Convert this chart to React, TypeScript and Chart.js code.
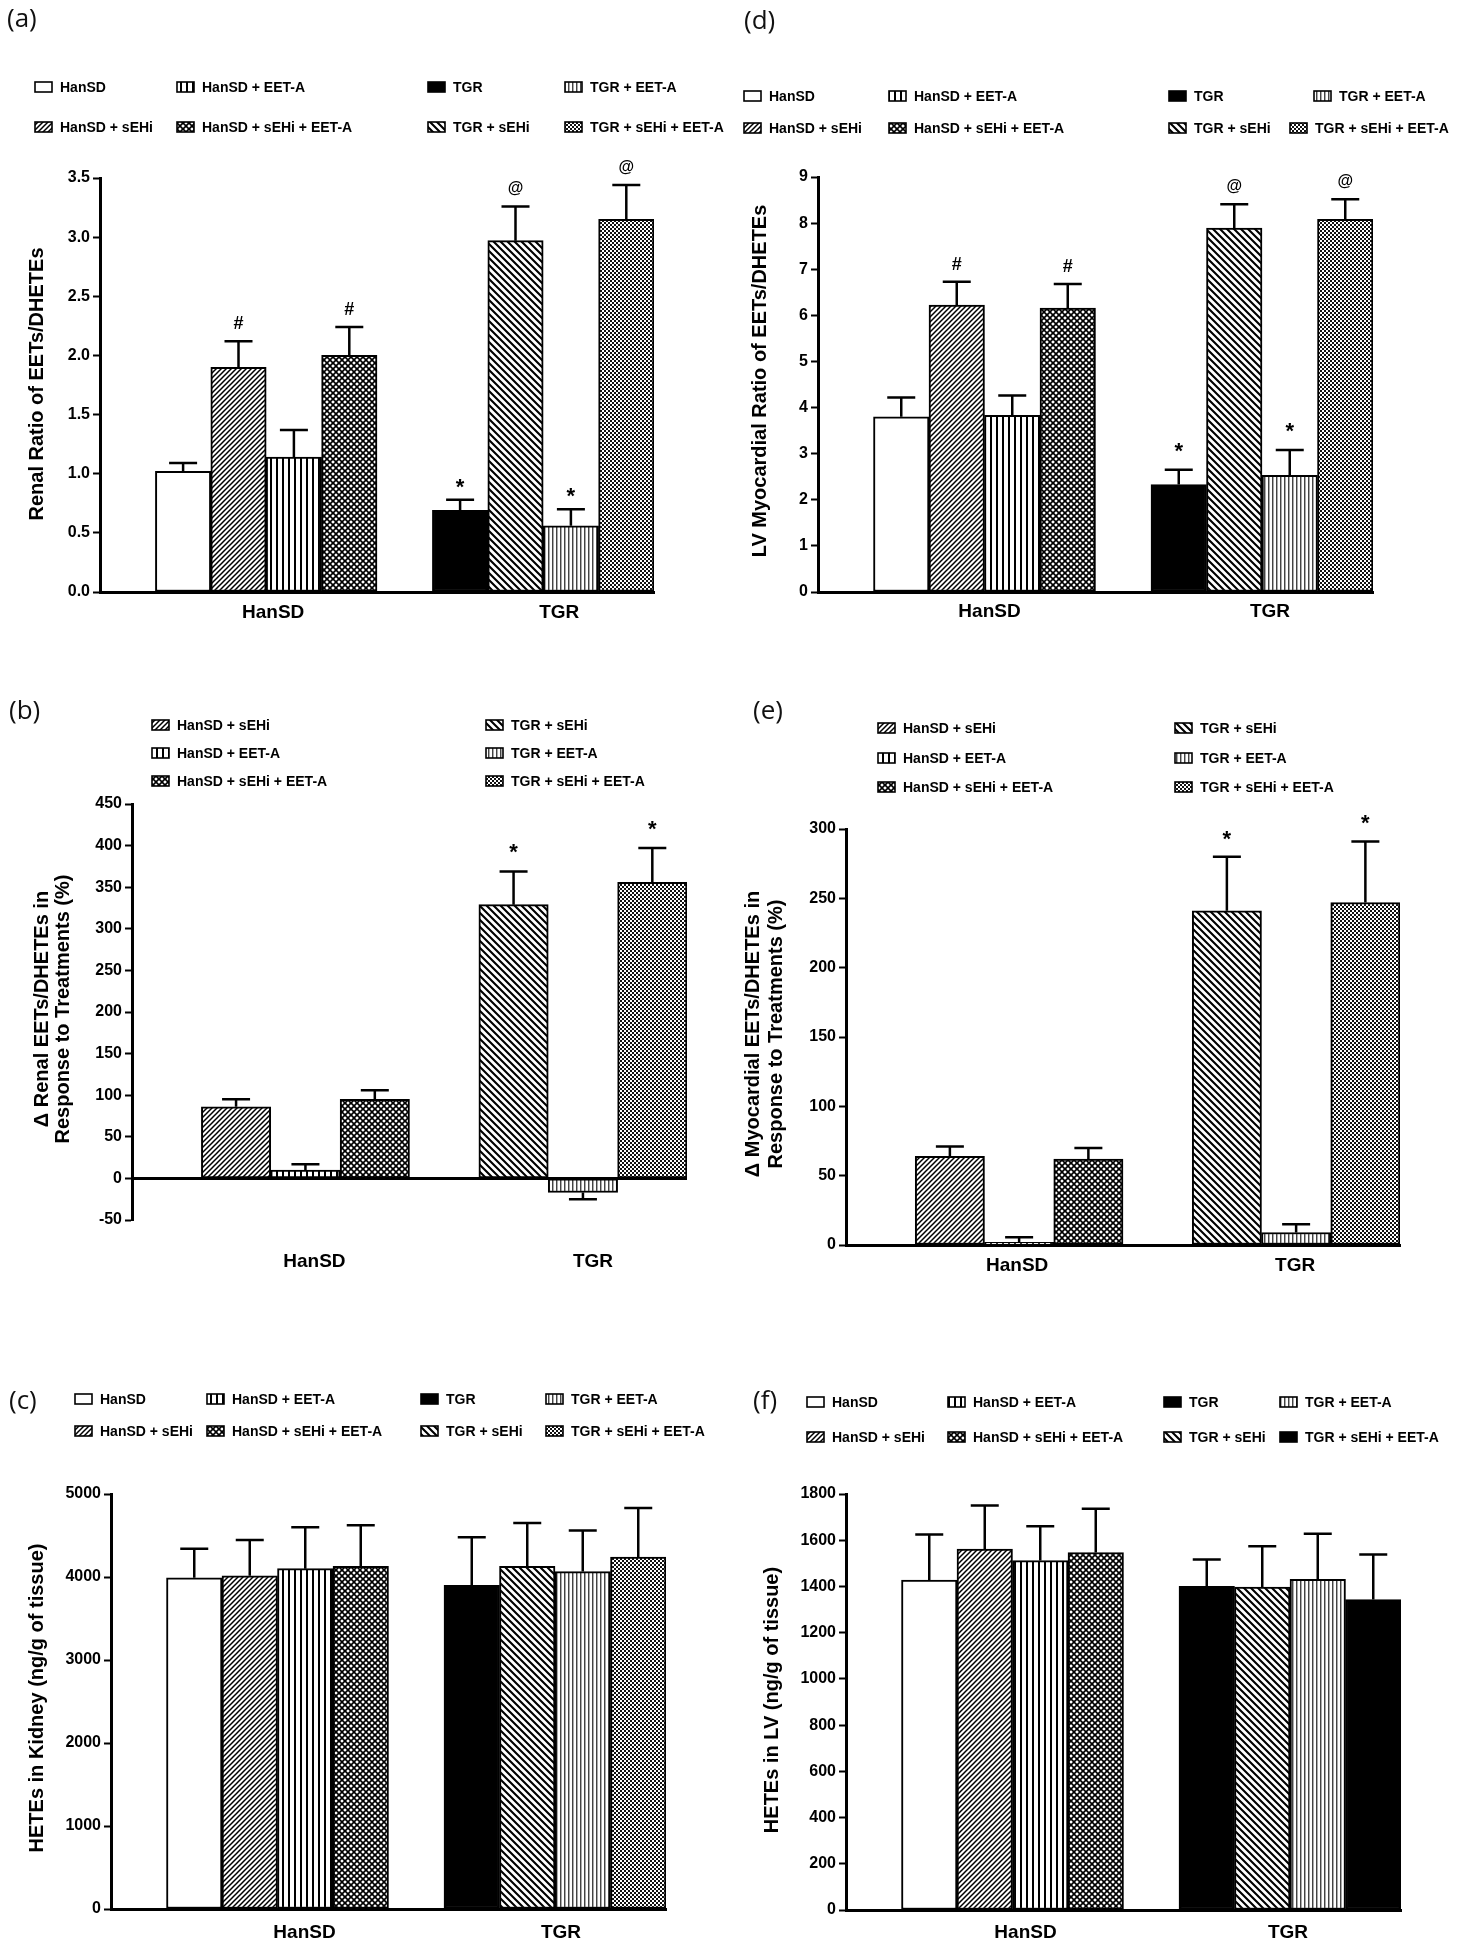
import React, { useEffect, useRef } from "react";
import { Chart, registerables } from "chart.js";

Chart.register(...registerables);

// ---------- shared ----------
const groups = ["HanSD", "TGR"];
const treatments4 = ["", " + sEHi", " + EET-A", " + sEHi + EET-A"];
const treatments3 = [" + sEHi", " + EET-A", " + sEHi + EET-A"];

// ---------- (a) Renal ratio of EETs/DHETEs ----------
const renalRatioHanSD = [1.02, 1.9, 1.14, 2.0];
const renalRatioHanSDErr = [0.07, 0.22, 0.23, 0.24];
const renalRatioTGR = [0.69, 2.97, 0.56, 3.15];
const renalRatioTGRErr = [0.09, 0.29, 0.14, 0.29];
const renalRatioMarksHanSD = ["", "#", "", "#"];
const renalRatioMarksTGR = ["*", "@", "*", "@"];
const renalRatioTicks = [0, 3.5, 0.5];

// ---------- (d) LV myocardial ratio of EETs/DHETEs ----------
const lvRatioHanSD = [3.8, 6.22, 3.83, 6.16];
const lvRatioHanSDErr = [0.42, 0.51, 0.43, 0.52];
const lvRatioTGR = [2.33, 7.89, 2.53, 8.08];
const lvRatioTGRErr = [0.32, 0.52, 0.55, 0.44];
const lvRatioMarksHanSD = ["", "#", "", "#"];
const lvRatioMarksTGR = ["*", "@", "*", "@"];
const lvRatioTicks = [0, 9, 1];

// ---------- (b) Δ renal EETs/DHETEs (%) ----------
const renalDeltaHanSD = [86, 10, 95];
const renalDeltaHanSDErr = [9, 7, 11];
const renalDeltaTGR = [329, -17, 356];
const renalDeltaTGRErr = [40, 8, 41];
const renalDeltaMarksHanSD = ["", "", ""];
const renalDeltaMarksTGR = ["*", "", "*"];
const renalDeltaTicks = [-50, 450, 50];

// ---------- (e) Δ myocardial EETs/DHETEs (%) ----------
const myoDeltaHanSD = [64, 2, 62];
const myoDeltaHanSDErr = [7, 3.5, 8];
const myoDeltaTGR = [241, 9, 247];
const myoDeltaTGRErr = [39, 6, 44];
const myoDeltaMarksHanSD = ["", "", ""];
const myoDeltaMarksTGR = ["*", "", "*"];
const myoDeltaTicks = [0, 300, 50];

// ---------- (c) HETEs in kidney ----------
const kidneyHetesHanSD = [3990, 4015, 4100, 4130];
const kidneyHetesHanSDErr = [350, 430, 500, 495];
const kidneyHetesTGR = [3900, 4130, 4065, 4240];
const kidneyHetesTGRErr = [580, 520, 495, 590];
const kidneyHetesTicks = [0, 5000, 1000];

// ---------- (f) HETEs in LV ----------
const lvHetesHanSD = [1427, 1562, 1512, 1547];
const lvHetesHanSDErr = [198, 188, 148, 189];
const lvHetesTGR = [1400, 1397, 1431, 1343];
const lvHetesTGRErr = [117, 177, 197, 195];
const lvHetesTicks = [0, 1800, 200];

const noMarks4 = ["", "", "", ""];

const FONT = '"Liberation Sans", Arial, Helvetica, sans-serif';

function makeFill(kind: string): string | CanvasPattern {
  if (kind === "white") return "#ffffff";
  if (kind === "black") return "#000000";
  const c = document.createElement("canvas");
  const ctx = c.getContext("2d") as CanvasRenderingContext2D;
  const tile = (w: number, h: number) => {
    c.width = w;
    c.height = h;
    ctx.fillStyle = "#ffffff";
    ctx.fillRect(0, 0, w, h);
  };
  const fwd = (s: number, lw: number) => {
    ctx.strokeStyle = "#000";
    ctx.lineWidth = lw;
    ctx.beginPath();
    ctx.moveTo(0, s);
    ctx.lineTo(s, 0);
    ctx.moveTo(-s / 2, s / 2);
    ctx.lineTo(s / 2, -s / 2);
    ctx.moveTo(s / 2, (3 * s) / 2);
    ctx.lineTo((3 * s) / 2, s / 2);
    ctx.stroke();
  };
  const back = (s: number, lw: number) => {
    ctx.strokeStyle = "#000";
    ctx.lineWidth = lw;
    ctx.beginPath();
    ctx.moveTo(0, 0);
    ctx.lineTo(s, s);
    ctx.moveTo(s / 2, -s / 2);
    ctx.lineTo((3 * s) / 2, s / 2);
    ctx.moveTo(-s / 2, s / 2);
    ctx.lineTo(s / 2, (3 * s) / 2);
    ctx.stroke();
  };
  if (kind === "fwd") {
    tile(5, 5);
    fwd(5, 1.5);
  } else if (kind === "back") {
    tile(7, 7);
    back(7, 2.1);
  } else if (kind === "cross") {
    tile(6, 6);
    fwd(6, 1.6);
    back(6, 1.6);
  } else if (kind === "vert") {
    tile(6, 1);
    ctx.fillStyle = "#000";
    ctx.fillRect(0, 0, 2, 1);
  } else if (kind === "fineVert") {
    tile(4, 1);
    ctx.fillStyle = "#444";
    ctx.fillRect(0, 0, 1, 1);
    ctx.fillStyle = "#aaa";
    ctx.fillRect(1, 0, 1, 1);
  } else if (kind === "fineCheck") {
    tile(4, 4);
    ctx.fillStyle = "#111";
    ctx.fillRect(0, 0, 4, 4);
    ctx.fillStyle = "#fff";
    ctx.fillRect(0, 0, 2, 2);
    ctx.fillRect(2, 2, 2, 2);
  }
  return ctx.createPattern(c, "repeat") as CanvasPattern;
}

type LegendItem = { text: string; pat: string; x: number; y: number };

type PanelCfg = {
  label: string;
  labelPos: [number, number];
  box: [number, number, number, number];
  axis: { left: number; right: number; top: number; bottom: number; catY: number };
  catShift: number[];
  starOff: number;
  units: number;
  ticks: number[];
  decimals: number;
  han: number[];
  hanErr: number[];
  tgr: number[];
  tgrErr: number[];
  hanPat: string[];
  tgrPat: string[];
  hanMarks: string[];
  tgrMarks: string[];
  zeroLine: boolean;
  title: string[];
  titleX: number[];
  titleY: number;
  legend: LegendItem[];
};

function legend4(cols0: number[], cols1: number[], rows: number[], hanPat: string[], tgrPat: string[]): LegendItem[] {
  const items: LegendItem[] = [];
  groups.forEach((g, gi) => {
    treatments4.forEach((t, ti) => {
      const row = ti % 2;
      const col = gi * 2 + (ti >= 2 ? 1 : 0);
      const cols = row === 0 ? cols0 : cols1;
      items.push({ text: g + t, pat: (gi === 0 ? hanPat : tgrPat)[ti], x: cols[col], y: rows[row] });
    });
  });
  return items;
}

function legend3(cols: number[], rows: number[], hanPat: string[], tgrPat: string[]): LegendItem[] {
  const items: LegendItem[] = [];
  groups.forEach((g, gi) => {
    treatments3.forEach((t, ti) => {
      items.push({ text: g + t, pat: (gi === 0 ? hanPat : tgrPat)[ti], x: cols[gi], y: rows[ti] });
    });
  });
  return items;
}

const pat4Han = ["white", "fwd", "vert", "cross"];
const pat4TGR = ["black", "back", "fineVert", "fineCheck"];
const pat4TGRf = ["black", "back", "fineVert", "black"];
const pat3Han = ["fwd", "vert", "cross"];
const pat3TGR = ["back", "fineVert", "fineCheck"];

const panels: PanelCfg[] = [
  {
    label: "(a)",
    labelPos: [7, 20],
    box: [0, 0, 732, 650],
    axis: { left: 100, right: 654, top: 178, bottom: 592, catY: 613 },
    catShift: [7, 16],
    starOff: 6,
    units: 10,
    ticks: renalRatioTicks,
    decimals: 1,
    han: renalRatioHanSD,
    hanErr: renalRatioHanSDErr,
    tgr: renalRatioTGR,
    tgrErr: renalRatioTGRErr,
    hanPat: pat4Han,
    tgrPat: pat4TGR,
    hanMarks: renalRatioMarksHanSD,
    tgrMarks: renalRatioMarksTGR,
    zeroLine: false,
    title: ["Renal Ratio of EETs/DHETEs"],
    titleX: [37],
    titleY: 384,
    legend: legend4([35, 177, 428, 565], [35, 177, 428, 565], [87, 127], pat4Han, pat4TGR),
  },
  {
    label: "(d)",
    labelPos: [744, 22],
    box: [732, 0, 732, 650],
    axis: { left: 818, right: 1373, top: 177, bottom: 592, catY: 612 },
    catShift: [5, 8],
    starOff: 12,
    units: 10,
    ticks: lvRatioTicks,
    decimals: 0,
    han: lvRatioHanSD,
    hanErr: lvRatioHanSDErr,
    tgr: lvRatioTGR,
    tgrErr: lvRatioTGRErr,
    hanPat: pat4Han,
    tgrPat: pat4TGR,
    hanMarks: lvRatioMarksHanSD,
    tgrMarks: lvRatioMarksTGR,
    zeroLine: false,
    title: ["LV Myocardial Ratio of EETs/DHETEs"],
    titleX: [760],
    titleY: 381,
    legend: legend4([744, 889, 1169, 1314], [744, 889, 1169, 1290], [96, 128], pat4Han, pat4TGR),
  },
  {
    label: "(b)",
    labelPos: [9, 712],
    box: [0, 650, 732, 650],
    axis: { left: 132, right: 687, top: 804, bottom: 1220, catY: 1262 },
    catShift: [9, 10],
    starOff: 12,
    units: 8,
    ticks: renalDeltaTicks,
    decimals: 0,
    han: renalDeltaHanSD,
    hanErr: renalDeltaHanSDErr,
    tgr: renalDeltaTGR,
    tgrErr: renalDeltaTGRErr,
    hanPat: pat3Han,
    tgrPat: pat3TGR,
    hanMarks: renalDeltaMarksHanSD,
    tgrMarks: renalDeltaMarksTGR,
    zeroLine: true,
    title: ["\u0394 Renal EETs/DHETEs in", "Response to Treatments (%)"],
    titleX: [42, 63],
    titleY: 1009,
    legend: legend3([152, 486], [725, 753, 781], pat3Han, pat3TGR),
  },
  {
    label: "(e)",
    labelPos: [753, 712],
    box: [732, 650, 732, 650],
    axis: { left: 846, right: 1400, top: 829, bottom: 1245, catY: 1266 },
    catShift: [-2, -1],
    starOff: 11,
    units: 8,
    ticks: myoDeltaTicks,
    decimals: 0,
    han: myoDeltaHanSD,
    hanErr: myoDeltaHanSDErr,
    tgr: myoDeltaTGR,
    tgrErr: myoDeltaTGRErr,
    hanPat: pat3Han,
    tgrPat: pat3TGR,
    hanMarks: myoDeltaMarksHanSD,
    tgrMarks: myoDeltaMarksTGR,
    zeroLine: false,
    title: ["\u0394 Myocardial EETs/DHETEs in", "Response to Treatments (%)"],
    titleX: [753, 776],
    titleY: 1034,
    legend: legend3([878, 1175], [728, 758, 787], pat3Han, pat3TGR),
  },
  {
    label: "(c)",
    labelPos: [9, 1402],
    box: [0, 1300, 732, 650],
    axis: { left: 111, right: 666, top: 1494, bottom: 1909, catY: 1933 },
    catShift: [27, 6],
    starOff: 6,
    units: 10,
    ticks: kidneyHetesTicks,
    decimals: 0,
    han: kidneyHetesHanSD,
    hanErr: kidneyHetesHanSDErr,
    tgr: kidneyHetesTGR,
    tgrErr: kidneyHetesTGRErr,
    hanPat: pat4Han,
    tgrPat: pat4TGR,
    hanMarks: noMarks4,
    tgrMarks: noMarks4,
    zeroLine: false,
    title: ["HETEs in Kidney (ng/g of tissue)"],
    titleX: [37],
    titleY: 1698,
    legend: legend4([75, 207, 421, 546], [75, 207, 421, 546], [1399, 1431], pat4Han, pat4TGR),
  },
  {
    label: "(f)",
    labelPos: [753, 1402],
    box: [732, 1300, 732, 650],
    axis: { left: 846, right: 1401, top: 1494, bottom: 1910, catY: 1933 },
    catShift: [13, -2],
    starOff: 6,
    units: 10,
    ticks: lvHetesTicks,
    decimals: 0,
    han: lvHetesHanSD,
    hanErr: lvHetesHanSDErr,
    tgr: lvHetesTGR,
    tgrErr: lvHetesTGRErr,
    hanPat: pat4Han,
    tgrPat: pat4TGRf,
    hanMarks: noMarks4,
    tgrMarks: noMarks4,
    zeroLine: false,
    title: ["HETEs in LV (ng/g of tissue)"],
    titleX: [772],
    titleY: 1700,
    legend: legend4([807, 948, 1164, 1280], [807, 948, 1164, 1280], [1402, 1437], pat4Han, pat4TGRf),
  },
];

function Panel({ cfg }: { cfg: PanelCfg }) {
  const ref = useRef<HTMLCanvasElement>(null);
  const [cx, cy, W, H] = cfg.box;

  useEffect(() => {
    const canvas = ref.current;
    if (!canvas) return;
    const nBars = cfg.han.length;
    const spacing = cfg.units === 10 ? 5 : 4;
    const c0 = cfg.units === 10 ? 3 : 2.5;
    const xMin = -c0 / spacing;
    const xMax = (cfg.units - c0) / spacing;
    const axisLen = cfg.axis.right - cfg.axis.left;
    const barW = axisLen / cfg.units;
    const ppv = axisLen / (xMax - xMin);
    const hx = cfg.axis.catY - cfg.axis.bottom + 16;
    const yWidth = cfg.axis.left - cx;
    const padRight = cx + W - cfg.axis.right;
    const padTop = cfg.axis.top - cy;
    const padBottom = Math.max(0, H - (cfg.axis.bottom - cy) - hx);
    const catFont = 19;
    const catPad = cfg.axis.catY - cfg.axis.bottom - (catFont * 1.2) / 2;

    const fillCache: Record<string, string | CanvasPattern> = {};
    const fill = (k: string) => {
      if (!fillCache[k]) fillCache[k] = makeFill(k);
      return fillCache[k];
    };

    const datasets = cfg.han.map((v, t) => ({
      label: (nBars === 4 ? treatments4 : treatments3)[t] || "control",
      data: [
        { x: 0, y: v },
        { x: 1, y: cfg.tgr[t] },
      ],
      backgroundColor: [fill(cfg.hanPat[t]), fill(cfg.tgrPat[t])],
      borderColor: "#000000",
      borderWidth: 2,
      borderSkipped: false,
      barThickness: barW,
      barPercentage: 1,
      categoryPercentage: nBars / spacing,
    }));

    const decor = {
      id: "decor",
      afterDatasetsDraw(chart: any) {
        const ctx: CanvasRenderingContext2D = chart.ctx;
        const yS = chart.scales.y;
        ctx.save();
        ctx.strokeStyle = "#000";
        ctx.fillStyle = "#000";
        if (cfg.zeroLine) {
          const y0 = yS.getPixelForValue(0);
          ctx.lineWidth = 3;
          ctx.beginPath();
          ctx.moveTo(chart.chartArea.left, y0);
          ctx.lineTo(chart.chartArea.right, y0);
          ctx.stroke();
        }
        for (let t = 0; t < nBars; t++) {
          const meta = chart.getDatasetMeta(t);
          for (let g = 0; g < 2; g++) {
            const el = meta.data[g];
            if (!el) continue;
            const p = el.getProps(["x", "y"], true);
            const v = g === 0 ? cfg.han[t] : cfg.tgr[t];
            const e = g === 0 ? cfg.hanErr[t] : cfg.tgrErr[t];
            const sign = v >= 0 ? 1 : -1;
            const yEnd = yS.getPixelForValue(v + sign * e);
            ctx.lineWidth = 2.5;
            ctx.beginPath();
            ctx.moveTo(p.x, p.y);
            ctx.lineTo(p.x, yEnd);
            ctx.moveTo(p.x - 14, yEnd);
            ctx.lineTo(p.x + 14, yEnd);
            ctx.stroke();
            const mark = (g === 0 ? cfg.hanMarks : cfg.tgrMarks)[t];
            if (mark) {
              ctx.textAlign = "center";
              ctx.textBaseline = "alphabetic";
              let off = 12;
              if (mark === "*") {
                ctx.font = `bold 22px ${FONT}`;
                off = cfg.starOff;
              } else if (mark === "@") {
                ctx.font = `bold 16px ${FONT}`;
                off = 13;
              } else {
                ctx.font = `bold 18px ${FONT}`;
                off = 12;
              }
              ctx.fillText(mark, p.x, yEnd - off);
            }
          }
        }
        ctx.restore();
      },
      afterDraw(chart: any) {
        const ctx: CanvasRenderingContext2D = chart.ctx;
        ctx.save();
        // legend
        ctx.textAlign = "left";
        ctx.textBaseline = "middle";
        ctx.font = `bold 14px ${FONT}`;
        cfg.legend.forEach((it) => {
          const bx = it.x - cx;
          const by = it.y - cy;
          ctx.fillStyle = fill(it.pat) as any;
          ctx.fillRect(bx, by - 5, 17, 10);
          ctx.strokeStyle = "#000";
          ctx.lineWidth = 1.6;
          ctx.strokeRect(bx, by - 5, 17, 10);
          ctx.fillStyle = "#000";
          ctx.fillText(it.text, bx + 25, by + 1);
        });
        // panel label
        ctx.font = `26px "Open Sans", "DejaVu Sans", sans-serif`;
        ctx.fillStyle = "#111";
        ctx.textBaseline = "middle";
        ctx.fillText(cfg.label, cfg.labelPos[0] - cx, cfg.labelPos[1] - cy);
        // y title
        ctx.font = `bold 20px ${FONT}`;
        ctx.fillStyle = "#000";
        ctx.textAlign = "center";
        cfg.title.forEach((line, i) => {
          ctx.save();
          ctx.translate(cfg.titleX[i] - cx, cfg.titleY - cy);
          ctx.rotate(-Math.PI / 2);
          ctx.fillText(line, 0, 0);
          ctx.restore();
        });
        ctx.restore();
      },
    };

    const chart = new Chart(canvas, {
      type: "bar",
      data: { datasets: datasets as any },
      options: {
        animation: false,
        responsive: false,
        events: [],
        layout: { padding: { left: 0, top: padTop, right: padRight, bottom: padBottom } },
        plugins: { legend: { display: false }, tooltip: { enabled: false } },
        scales: {
          x: {
            type: "linear",
            min: xMin,
            max: xMax,
            offset: false,
            grid: { display: false, drawTicks: false },
            border: { display: !cfg.zeroLine, color: "#000", width: 3 },
            afterBuildTicks: (s: any) => {
              s.ticks = groups.map((_, i) => ({ value: i + cfg.catShift[i] / ppv }));
            },
            afterFit: (s: any) => {
              s.height = hx;
            },
            ticks: {
              autoSkip: false,
              maxRotation: 0,
              padding: catPad,
              color: "#000",
              font: { family: FONT, size: catFont, weight: "bold" },
              callback: (_v: any, i: number) => groups[i] ?? "",
            },
          },
          y: {
            type: "linear",
            min: cfg.ticks[0],
            max: cfg.ticks[1],
            afterFit: (s: any) => {
              s.width = yWidth;
            },
            grid: {
              drawOnChartArea: false,
              drawTicks: true,
              tickLength: 7,
              tickWidth: 2,
              tickColor: "#000",
            },
            border: { display: true, color: "#000", width: 3 },
            ticks: {
              stepSize: cfg.ticks[2],
              padding: 3,
              autoSkip: false,
              color: "#000",
              font: { family: FONT, size: 16, weight: "bold" },
              callback: (v: any) => Number(v).toFixed(cfg.decimals),
            },
          },
        },
      } as any,
      plugins: [decor],
    });
    return () => chart.destroy();
  }, []);

  return (
    <canvas
      ref={ref}
      width={W}
      height={H}
      style={{ position: "absolute", left: cx, top: cy, width: W, height: H }}
    />
  );
}

export default function App() {
  return (
    <div
      style={{
        position: "absolute",
        left: 0,
        top: 0,
        width: 1464,
        height: 1950,
        background: "#ffffff",
        overflow: "hidden",
      }}
    >
      {panels.map((p) => (
        <Panel key={p.label} cfg={p} />
      ))}
    </div>
  );
}
